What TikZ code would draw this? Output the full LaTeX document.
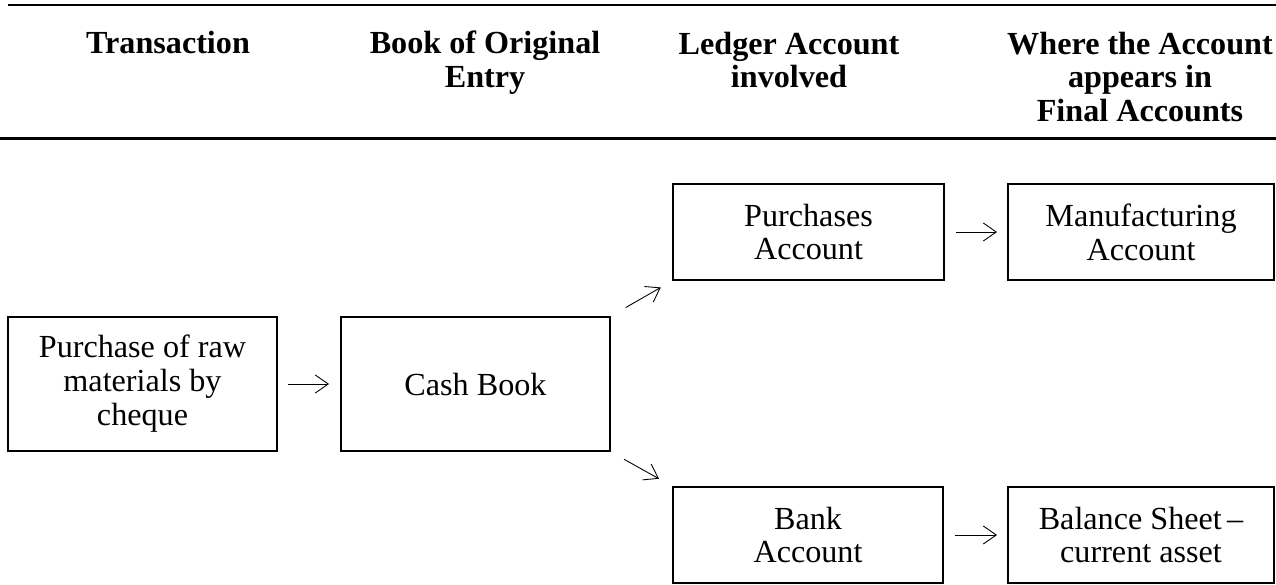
\documentclass[tikz,border=0pt]{standalone}
\usepackage{fontspec}
\setmainfont{Liberation Serif}
\usetikzlibrary{arrows.meta}
\tikzset{
  acbox/.style={draw, line width=1.1pt, align=center, inner sep=1mm},
  head/.style={align=center, font=\fontsize{18.3}{19.3}\selectfont\bfseries},
  flow/.style={line width=0.5pt, -{Straight Barb[length=0.26cm,width=0.36cm]}},
}
\begin{document}
\begin{tikzpicture}[every node/.append style={font=\fontsize{18.3}{19.3}\selectfont}]
  \useasboundingbox (0,0) rectangle (25.52,11.68);
  % column heads
  \node [head] (h1) at (3.36,10.82) {Transaction};
  \node [head] (h2) at (9.7,10.42) {Book of Original\\Entry};
  \node [head] (h3) at (15.78,10.48) {Ledger Account\\involved};
  \node [head] (h4) at (22.8,10.14) {Where the Account\\appears in\\Final Accounts};
  \draw [line width=1.2pt] (0.16,11.58) -- (25.52,11.58);
  \draw [line width=1.2pt] (0,8.91) -- (25.52,8.91);
  % boxes
  \node [acbox, minimum width=5.38cm, minimum height=2.68cm] (trans) at (2.85,4.0) {Purchase of raw\\materials by\\cheque};
  \node [acbox, minimum width=5.38cm, minimum height=2.68cm] (cash) at (9.51,4.0) {Cash Book};
  \node [acbox, minimum width=5.42cm, minimum height=1.92cm] (purch) at (16.17,7.04) {Purchases\\Account};
  \node [acbox, minimum width=5.32cm, minimum height=1.92cm] (manuf) at (22.82,7.04) {Manufacturing\\Account};
  \node [acbox, minimum width=5.4cm, minimum height=1.92cm] (bank) at (16.16,0.98) {Bank\\Account};
  \node [acbox, minimum width=5.32cm, minimum height=1.92cm] (bal) at (22.82,0.98) {Balance Sheet\,--\\current asset};
  % arrows
  \draw [flow, shorten <=0.2cm, shorten >=0.22cm] (trans) -- (cash);
  \draw [flow, shorten <=0.34cm, shorten >=0.26cm] (cash.north east) -- (purch.south west);
  \draw [flow, shorten <=0.3cm, shorten >=0.3cm] (cash.south east) -- (bank.north west);
  \draw [flow, shorten <=0.22cm, shorten >=0.2cm] (purch) -- (manuf);
  \draw [flow, shorten <=0.22cm, shorten >=0.2cm] (bank) -- (bal);
\end{tikzpicture}
\end{document}
